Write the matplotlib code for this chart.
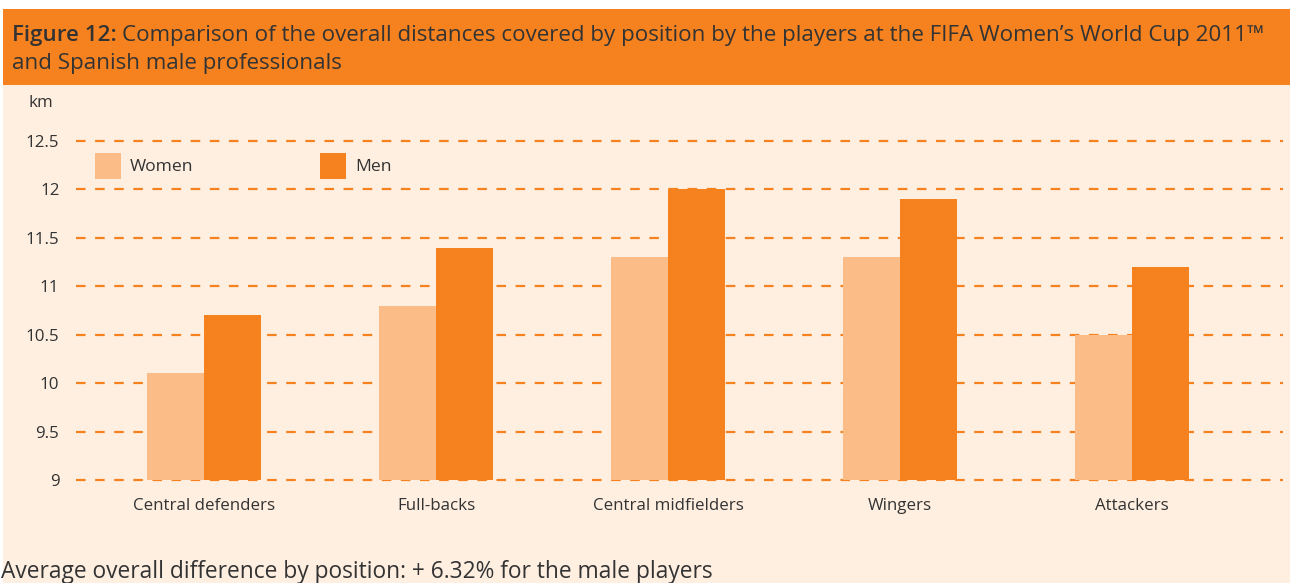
import matplotlib.pyplot as plt
from matplotlib.patches import Rectangle

plt.rcParams['font.family'] = ['Open Sans', 'DejaVu Sans']

positions = ['Central defenders', 'Full-backs', 'Central midfielders', 'Wingers', 'Attackers']
women = [10.1, 10.8, 11.3, 11.3, 10.5]
men = [10.7, 11.4, 12.0, 11.9, 11.2]
yticks = [9, 9.5, 10, 10.5, 11, 11.5, 12, 12.5]
ytick_labels = ['9', '9.5', '10', '10.5', '11', '11.5', '12', '12.5']

orange = '#F5821F'
light = '#FBBC87'
cream = '#FEEFE1'
text_col = '#333333'

W, H = 1290, 583
fig = plt.figure(figsize=(W / 100, H / 100), dpi=100)
fig.patch.set_facecolor('white')


def fx(px):
    return px / W


def fy(py):
    return 1 - py / H


# background panel and header band
fig.add_artist(Rectangle((fx(3), 0), 1 - fx(3), fy(85), transform=fig.transFigure,
                         facecolor=cream, edgecolor='none', zorder=0))
fig.add_artist(Rectangle((fx(3), fy(85)), 1 - fx(3), fy(9) - fy(85), transform=fig.transFigure,
                         facecolor=orange, edgecolor='none', zorder=0))

title_fs = 16.1
title1 = fig.text(fx(12), fy(36), 'Figure 12:', fontsize=title_fs, color=text_col,
                  va='center', fontweight='semibold')
fig.canvas.draw()
bb = title1.get_window_extent()
fig.text(bb.x1 / W + fx(5), fy(36),
         'Comparison of the overall distances covered by position by the players at the FIFA Women\u2019s World Cup 2011\u2122',
         fontsize=title_fs, color=text_col, va='center')
fig.text(fx(12), fy(64), 'and Spanish male professionals', fontsize=title_fs, color=text_col, va='center')

ax = fig.add_axes([fx(76), fy(480), fx(1283) - fx(76), fy(141) - fy(480)])
ax.set_facecolor('none')
x = list(range(len(positions)))
bw = 0.246
ax.bar([i - bw / 2 for i in x], [v - 9 for v in women], bw, bottom=9, color=light, zorder=3)
ax.bar([i + bw / 2 for i in x], [v - 9 for v in men], bw, bottom=9, color=orange, zorder=3)

ax.set_ylim(9, 12.5)
ax.set_xlim(-0.552, 4.65)
ax.set_yticks(yticks)
ax.set_yticklabels(ytick_labels)
ax.set_xticks(x)
ax.set_xticklabels(positions)
ax.tick_params(axis='both', length=0, labelsize=12.2, colors=text_col)
ax.tick_params(axis='y', pad=12)
ax.tick_params(axis='x', pad=13)
for s in ax.spines.values():
    s.set_visible(False)
for t in yticks:
    ax.axhline(t, color=orange, lw=1.6, linestyle=(0, (4.3, 4.3)), zorder=1, clip_on=False)

fig.text(fx(29), fy(103), 'km', fontsize=12.2, color=text_col, va='center')

# legend
fig.add_artist(Rectangle((fx(95), fy(179)), fx(26), fy(153) - fy(179), transform=fig.transFigure,
                         facecolor=light, edgecolor='none'))
fig.text(fx(130), fy(167), 'Women', fontsize=12.6, color=text_col, va='center')
fig.add_artist(Rectangle((fx(320), fy(179)), fx(26), fy(153) - fy(179), transform=fig.transFigure,
                         facecolor=orange, edgecolor='none'))
fig.text(fx(355), fy(167), 'Men', fontsize=12.6, color=text_col, va='center')

fig.text(fx(1), fy(572), 'Average overall difference by position: + 6.32% for the male players',
         fontsize=16.4, color=text_col, va='center')

fig.savefig('out.png', dpi=100, facecolor=fig.get_facecolor())
